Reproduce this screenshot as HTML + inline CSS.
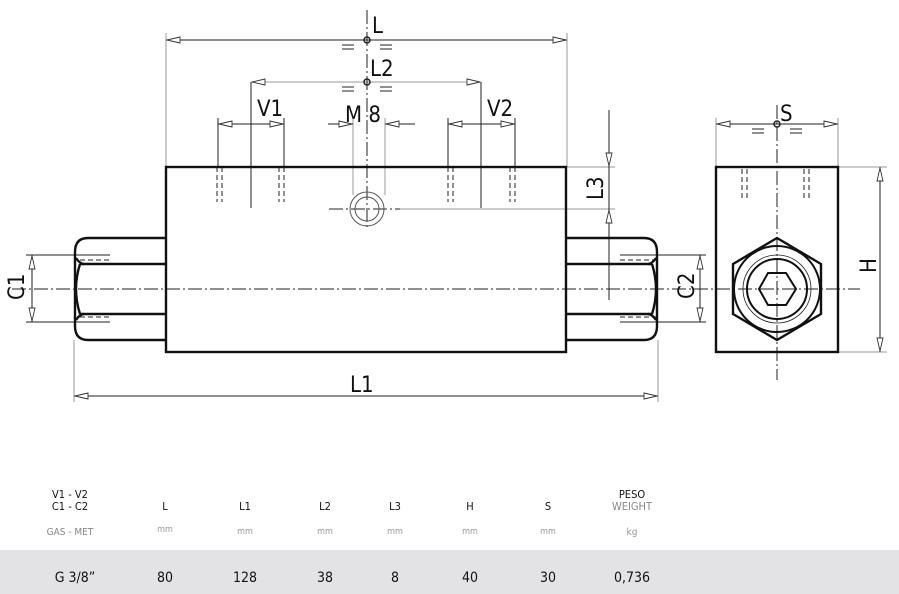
<!DOCTYPE html>
<html><head><meta charset="utf-8"><style>
html,body{margin:0;padding:0;background:#fff;}
body{width:899px;height:594px;overflow:hidden;position:relative;font-family:"Liberation Sans",sans-serif;}
.t{position:absolute;text-align:center;font-family:"DejaVu Sans Condensed","Liberation Sans",sans-serif;}
</style></head><body>
<svg width="899" height="594" style="position:absolute;left:0;top:0" xmlns="http://www.w3.org/2000/svg">
<defs>
<path id="aL" d="M0,0 L13,-3 L13,3 Z" fill="#fff" stroke="#333" stroke-width="0.9"/>
</defs>
<g fill="none" stroke="#222">
<!-- extension lines (grey) -->
<g stroke="#999" stroke-width="1">
<line x1="166" y1="33" x2="166" y2="167"/><line x1="567" y1="33" x2="567" y2="167"/>
<line x1="74" y1="340" x2="74" y2="402"/><line x1="658" y1="340" x2="658" y2="402"/>
<line x1="716" y1="118" x2="716" y2="167"/><line x1="838" y1="118" x2="838" y2="167"/>
<line x1="567" y1="167" x2="615" y2="167"/><line x1="400" y1="209" x2="615" y2="209"/>
<line x1="838" y1="167" x2="887" y2="167"/><line x1="838" y1="352" x2="887" y2="352"/>
<line x1="353" y1="118" x2="353" y2="195"/><line x1="385" y1="118" x2="385" y2="195"/>
<line x1="251" y1="82" x2="481" y2="82"/>
</g>
<!-- dim lines -->
<g stroke="#222" stroke-width="1">
<line x1="166" y1="40" x2="567" y2="40"/>
<line x1="74" y1="396" x2="658" y2="396"/>
<line x1="716" y1="124" x2="838" y2="124"/>
<line x1="218" y1="124" x2="284" y2="124"/>
<line x1="448" y1="124" x2="515" y2="124"/>
<line x1="328" y1="124" x2="353" y2="124"/><line x1="385" y1="124" x2="415" y2="124"/>
<line x1="218" y1="118" x2="218" y2="167"/><line x1="284" y1="118" x2="284" y2="167"/>
<line x1="448" y1="118" x2="448" y2="167"/><line x1="515" y1="118" x2="515" y2="167"/>
<line x1="251" y1="82" x2="251" y2="208"/><line x1="481" y1="82" x2="481" y2="208"/>
<line x1="609" y1="110" x2="609" y2="300"/>
<line x1="880" y1="167" x2="880" y2="352"/>
<line x1="26" y1="255" x2="110" y2="255"/><line x1="26" y1="322" x2="110" y2="322"/>
<line x1="32" y1="255" x2="32" y2="322"/>
<line x1="620" y1="255" x2="706" y2="255"/><line x1="620" y1="322" x2="706" y2="322"/>
<line x1="700" y1="255" x2="700" y2="322"/>
</g>
<!-- center lines -->
<g stroke="#222" stroke-width="1" stroke-dasharray="14,3,2,3">
<line x1="367" y1="10" x2="367" y2="230"/>
<line x1="12" y1="289" x2="860" y2="289"/>
<line x1="777" y1="105" x2="777" y2="380"/>
<line x1="329" y1="209" x2="400" y2="209"/>
</g>
<!-- dashed hidden lines -->
<g stroke="#222" stroke-width="1" stroke-dasharray="5,3">
<line x1="217" y1="167" x2="217" y2="202"/><line x1="222" y1="167" x2="222" y2="202"/>
<line x1="279" y1="167" x2="279" y2="202"/><line x1="284" y1="167" x2="284" y2="202"/>
<line x1="448" y1="167" x2="448" y2="202"/><line x1="453" y1="167" x2="453" y2="202"/>
<line x1="510" y1="167" x2="510" y2="202"/><line x1="515" y1="167" x2="515" y2="202"/>
<line x1="742" y1="169" x2="742" y2="201"/><line x1="747" y1="169" x2="747" y2="201"/>
<line x1="804" y1="169" x2="804" y2="201"/><line x1="809" y1="169" x2="809" y2="201"/>
<line x1="80" y1="255" x2="110" y2="255"/><line x1="80" y1="260" x2="110" y2="260"/>
<line x1="80" y1="317" x2="110" y2="317"/><line x1="80" y1="322" x2="110" y2="322"/>
<line x1="620" y1="255" x2="656" y2="255"/><line x1="620" y1="260" x2="656" y2="260"/>
<line x1="620" y1="317" x2="656" y2="317"/><line x1="620" y1="322" x2="656" y2="322"/>
</g>
<!-- main outlines -->
<g stroke="#111" stroke-width="2.4">
<rect x="166" y="167" width="400" height="185"/>
<path d="M166,238 H88 Q75,238 75,252 V326 Q75,340 88,340 H166"/>
<line x1="80" y1="264" x2="166" y2="264"/><line x1="80" y1="314" x2="166" y2="314"/>
<path d="M76,258 Q80,264 84,264 M76,320 Q80,314 84,314 M80,264 Q72,289 80,314"/>
<path d="M566,238 H644 Q657,238 657,252 V326 Q657,340 644,340 H566"/>
<line x1="566" y1="264" x2="652" y2="264"/><line x1="566" y1="314" x2="652" y2="314"/>
<path d="M656,258 Q652,264 648,264 M656,320 Q652,314 648,314 M652,264 Q660,289 652,314"/>
<rect x="716" y="167" width="122" height="185"/>
<polygon points="777,238 821,264 821,314 777,340 733,314 733,264"/>
<circle cx="777" cy="289" r="43" stroke-width="2"/>
<circle cx="777" cy="289" r="30" stroke-width="2"/>
<polygon points="759,289 768,273 786,273 796,289 786,305 768,305" stroke-width="2"/>
</g>
<circle cx="777" cy="289" r="34" stroke-width="0.8"/>
<circle cx="367" cy="209" r="17" stroke="#555" stroke-width="1"/>
<circle cx="367" cy="209" r="12" stroke="#555" stroke-width="1"/>
<!-- dots -->
<circle cx="367" cy="40" r="3" stroke-width="1.5"/>
<circle cx="367" cy="82" r="3" stroke-width="1.5"/>
<circle cx="777" cy="124" r="3" stroke-width="1.5"/>
<!-- equal marks -->
<g stroke="#222" stroke-width="1">
<path d="M342,45H354M342,49H354M380,45H392M380,49H392"/>
<path d="M342,87H354M342,91H354M380,87H392M380,91H392"/>
<path d="M752,129H764M752,133H764M790,129H802M790,133H802"/>
</g>
</g>
<!-- arrows -->
<use href="#aL" transform="translate(167,40)"/>
<use href="#aL" transform="translate(566,40) rotate(180)"/>
<use href="#aL" transform="translate(252,82)"/>
<use href="#aL" transform="translate(480,82) rotate(180)"/>
<use href="#aL" transform="translate(219,124)"/>
<use href="#aL" transform="translate(283,124) rotate(180)"/>
<use href="#aL" transform="translate(449,124)"/>
<use href="#aL" transform="translate(514,124) rotate(180)"/>
<use href="#aL" transform="translate(352,124) rotate(180)"/>
<use href="#aL" transform="translate(386,124)"/>
<use href="#aL" transform="translate(75,396)"/>
<use href="#aL" transform="translate(657,396) rotate(180)"/>
<use href="#aL" transform="translate(717,124)"/>
<use href="#aL" transform="translate(837,124) rotate(180)"/>
<use href="#aL" transform="translate(609,166) rotate(-90)"/>
<use href="#aL" transform="translate(609,210) rotate(90)"/>
<use href="#aL" transform="translate(880,168) rotate(90)"/>
<use href="#aL" transform="translate(880,351) rotate(-90)"/>
<use href="#aL" transform="translate(32,256) rotate(90)"/>
<use href="#aL" transform="translate(32,321) rotate(-90)"/>
<use href="#aL" transform="translate(700,256) rotate(90)"/>
<use href="#aL" transform="translate(700,321) rotate(-90)"/>
<!-- labels -->
<g font-family="DejaVu Sans Condensed, Liberation Sans Narrow, sans-serif" font-size="22" fill="#111">
<text x="372" y="33">L</text>
<text x="370" y="76">L2</text>
<text x="257" y="116">V1</text>
<text x="345" y="122">M 8</text>
<text x="487" y="116">V2</text>
<text x="780" y="121">S</text>
<text x="350" y="392">L1</text>
<text transform="translate(603,200) rotate(-90)">L3</text>
<text transform="translate(24,300) rotate(-90)">C1</text>
<text transform="translate(694,299) rotate(-90)">C2</text>
<text transform="translate(876,273) rotate(-90)">H</text>
</g>
</svg>
<div style="position:absolute;left:0;top:550px;width:899px;height:44px;background:#e3e3e5"></div>
<div class="t" style="left:30px;top:489px;width:80px;font-size:11px;line-height:12px;color:#111">V1 - V2<br>C1 - C2</div>
<div class="t" style="left:30px;top:527px;width:80px;font-size:10px;color:#888">GAS - MET</div>
<div class="t" style="left:145px;top:500px;width:40px;font-size:11px;color:#111">L</div>
<div class="t" style="left:225px;top:500px;width:40px;font-size:11px;color:#111">L1</div>
<div class="t" style="left:305px;top:500px;width:40px;font-size:11px;color:#111">L2</div>
<div class="t" style="left:375px;top:500px;width:40px;font-size:11px;color:#111">L3</div>
<div class="t" style="left:450px;top:500px;width:40px;font-size:11px;color:#111">H</div>
<div class="t" style="left:528px;top:500px;width:40px;font-size:11px;color:#111">S</div>
<div class="t" style="left:600px;top:489px;width:64px;font-size:11px;line-height:12px;color:#111">PESO<br><span style="color:#888">WEIGHT</span></div>
<div class="t" style="left:145px;top:525px;width:40px;font-size:9px;color:#999">mm</div>
<div class="t" style="left:225px;top:527px;width:40px;font-size:9px;color:#999">mm</div>
<div class="t" style="left:305px;top:527px;width:40px;font-size:9px;color:#999">mm</div>
<div class="t" style="left:375px;top:527px;width:40px;font-size:9px;color:#999">mm</div>
<div class="t" style="left:450px;top:527px;width:40px;font-size:9px;color:#999">mm</div>
<div class="t" style="left:528px;top:527px;width:40px;font-size:9px;color:#999">mm</div>
<div class="t" style="left:612px;top:527px;width:40px;font-size:10px;color:#999">kg</div>
<div class="t" style="left:40px;top:570px;width:70px;font-size:14px;color:#111">G 3/8”</div>
<div class="t" style="left:145px;top:570px;width:40px;font-size:14px;color:#111">80</div>
<div class="t" style="left:225px;top:570px;width:40px;font-size:14px;color:#111">128</div>
<div class="t" style="left:305px;top:570px;width:40px;font-size:14px;color:#111">38</div>
<div class="t" style="left:375px;top:570px;width:40px;font-size:14px;color:#111">8</div>
<div class="t" style="left:450px;top:570px;width:40px;font-size:14px;color:#111">40</div>
<div class="t" style="left:528px;top:570px;width:40px;font-size:14px;color:#111">30</div>
<div class="t" style="left:602px;top:570px;width:60px;font-size:14px;color:#111">0,736</div>
</body></html>
